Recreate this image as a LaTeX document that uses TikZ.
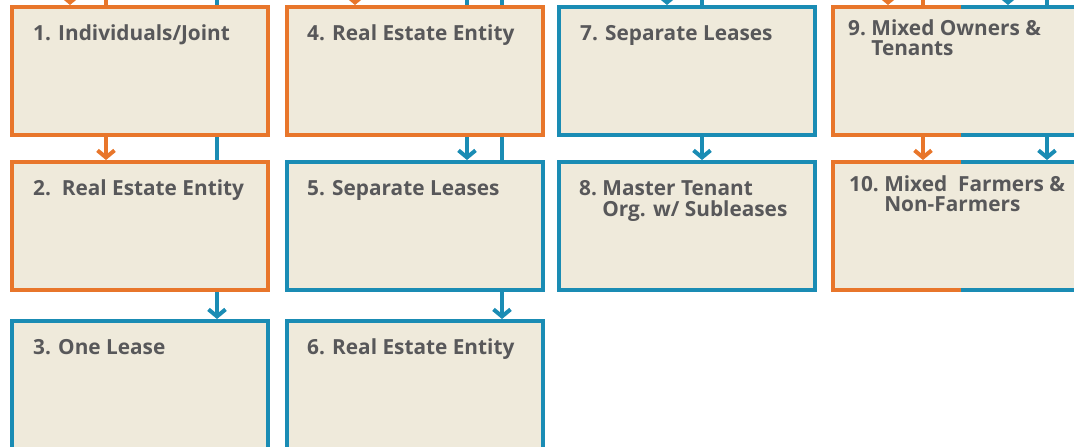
\documentclass[tikz,border=0pt]{standalone}
\usepackage{fontspec}
\setmainfont{Open Sans}
\usetikzlibrary{arrows.meta,calc}
\definecolor{orng}{HTML}{E8762B}
\definecolor{blu}{HTML}{1A8CB4}
\definecolor{bgc}{HTML}{EFEADB}
\definecolor{txc}{HTML}{58585A}
\begin{document}
\begin{tikzpicture}[x=1pt,y=-1pt,
  box/.style={rectangle, fill=bgc, line width=4pt, minimum width=256pt, minimum height=128pt, inner sep=0pt},
  obox/.style={box, draw=orng},
  bbox/.style={box, draw=blu},
  mbox/.style={box, draw=none},
  title/.style={anchor=base west, inner sep=0pt, text=txc, font=\bfseries\fontsize{20.8}{19}\selectfont},
  conn/.style={line width=4pt},
  arr/.style={conn, -{Straight Barb[length=7pt,width=17pt]}},
  ]
\useasboundingbox (0,0) rectangle (1074,447);
\clip (0,0) rectangle (1074,447);
% boxes
\node[obox] (b1) at (140,71) {};
\node[obox] (b2) at (140,226) {};
\node[bbox] (b3) at (140,385) {};
\node[obox] (b4) at (415,71) {};
\node[bbox] (b5) at (415,226) {};
\node[bbox] (b6) at (415,385) {};
\node[bbox] (b7) at (687,71) {};
\node[bbox] (b8) at (687,226) {};
\node[mbox] (b9) at (961,71) {};
\node[mbox] (b10) at (961,226) {};
\foreach \b in {b9,b10}{
  \draw[conn,orng] ($(\b.north)+(0,2)$) -- ($(\b.north west)+(2,2)$) -- ($(\b.south west)+(2,-2)$) -- ($(\b.south)+(0,-2)$);
  \draw[conn,blu] ($(\b.north)+(0,2)$) -- ($(\b.north east)+(-2,2)$) -- ($(\b.south east)+(-2,-2)$) -- ($(\b.south)+(0,-2)$);
}
% titles
\node[title] (t1) at ($(b1.north west)+(23,35)$) {1. Individuals/Joint};
\node[title] (t2) at ($(b2.north west)+(23,35)$) {2.\ \ Real Estate Entity};
\node[title] (t3) at ($(b3.north west)+(23,35)$) {3. One Lease};
\node[title] (t4) at ($(b4.north west)+(22,35)$) {4. Real Estate Entity};
\node[title] (t5) at ($(b5.north west)+(22,35)$) {5. Separate Leases};
\node[title] (t6) at ($(b6.north west)+(22,35)$) {6. Real Estate Entity};
\node[title] (t7) at ($(b7.north west)+(23,35)$) {7. Separate Leases};
\node[title] (t8) at ($(b8.north west)+(22,35)$) {\begin{tabular}[t]{@{}l@{\ }l@{}}8.&Master Tenant\\&Org. w/ Subleases\end{tabular}};
\node[title] (t9) at ($(b9.north west)+(17,30)$) {\begin{tabular}[t]{@{}l@{\ }l@{}}9.&Mixed Owners \&\\&Tenants\end{tabular}};
\node[title] (t10) at ($(b10.north west)+(18,31)$) {\begin{tabular}[t]{@{}l@{\ }l@{}}10.&Mixed\ \ Farmers \&\\&Non-Farmers\end{tabular}};
% connector x positions
\coordinate (top) at (0,-12);
\coordinate (xa) at (70,0);
\coordinate (xb) at (106,0);
\coordinate (xc) at (217,0);
\coordinate (xd) at (355,0);
\coordinate (xe) at (467,0);
\coordinate (xf) at (502,0);
\coordinate (xg) at (667,0);
\coordinate (xh) at (702,0);
\coordinate (xi) at (888,0);
\coordinate (xj) at (923,0);
\coordinate (xk) at (1008,0);
\coordinate (xl) at (1047,0);
% column 1
\draw[arr,orng] (top -| xa) -- (b1.north -| xa);
\draw[conn,orng] (top -| xb) -- (b1.north -| xb);
\draw[arr,orng] (b1.south -| xb) -- (b2.north -| xb);
\draw[conn,blu] (top -| xc) -- (b1.north -| xc);
\draw[conn,blu] (b1.south -| xc) -- (b2.north -| xc);
\draw[arr,blu] (b2.south -| xc) -- (b3.north -| xc);
% column 2
\draw[arr,orng] (top -| xd) -- (b4.north -| xd);
\draw[conn,blu] (top -| xe) -- (b4.north -| xe);
\draw[arr,blu] (b4.south -| xe) -- (b5.north -| xe);
\draw[conn,blu] (top -| xf) -- (b4.north -| xf);
\draw[conn,blu] (b4.south -| xf) -- (b5.north -| xf);
\draw[arr,blu] (b5.south -| xf) -- (b6.north -| xf);
% column 3
\draw[arr,blu] (top -| xg) -- (b7.north -| xg);
\draw[conn,blu] (top -| xh) -- (b7.north -| xh);
\draw[arr,blu] (b7.south -| xh) -- (b8.north -| xh);
% column 4
\draw[arr,orng] (top -| xi) -- (b9.north -| xi);
\draw[conn,orng] (top -| xj) -- (b9.north -| xj);
\draw[arr,orng] (b9.south -| xj) -- (b10.north -| xj);
\draw[arr,blu] (top -| xk) -- (b9.north -| xk);
\draw[conn,blu] (top -| xl) -- (b9.north -| xl);
\draw[arr,blu] (b9.south -| xl) -- (b10.north -| xl);
\end{tikzpicture}
\end{document}
